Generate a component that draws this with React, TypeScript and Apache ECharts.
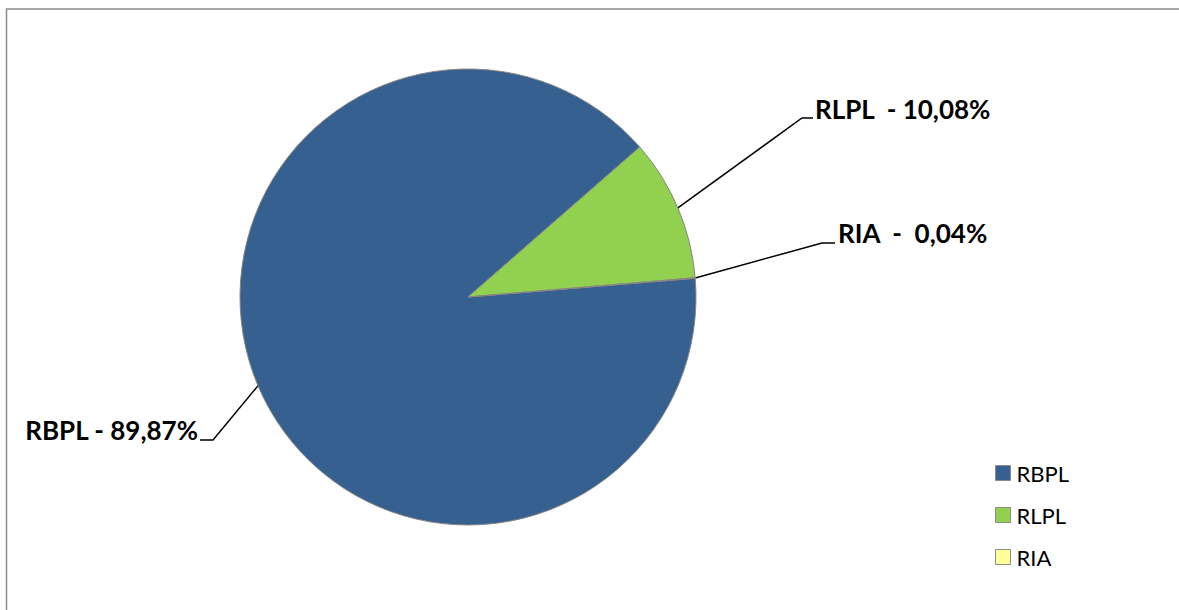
import React, { useEffect, useRef } from "react";
import * as echarts from "echarts";

// Share of each unit, in percent
const categories = ["RBPL", "RLPL", "RIA"];
const shares = [89.87, 10.08, 0.04];
const labelTexts = ["RBPL - 89,87%", "RLPL  - 10,08%", "RIA  -  0,04%"];
const sliceColors = ["#36608f", "#92d050", "#ffff99"];

// Where each callout text sits and where its leader line bends
const calloutAnchors = [
  { x: 198, y: 430, align: "right", elbow: [213, 440], end: [200, 440] },
  { x: 815, y: 109, align: "left", elbow: [802, 118], end: [813, 118] },
  { x: 838, y: 233, align: "left", elbow: [822, 243], end: [835, 243] },
];

export default function App() {
  const ref = useRef<HTMLDivElement>(null);

  useEffect(() => {
    if (!ref.current) return;
    const chart = echarts.init(ref.current, undefined, { renderer: "svg" });
    const labelFont = "Lato, 'Open Sans', sans-serif";

    chart.setOption({
      animation: false,
      backgroundColor: "#ffffff",
      color: sliceColors,
      graphic: [
        {
          type: "rect",
          silent: true,
          shape: { x: 6.5, y: 9, width: 1190, height: 640 },
          style: { fill: "none", stroke: "#8c8c8c", lineWidth: 1.5 },
        },
      ],
      legend: {
        orient: "vertical",
        left: 995,
        top: 462,
        padding: 0,
        itemWidth: 15,
        itemHeight: 15,
        itemGap: 20,
        icon: "rect",
        data: categories,
        itemStyle: { borderColor: "#8c8c8c", borderWidth: 1 },
        textStyle: {
          fontFamily: labelFont,
          fontSize: 22,
          lineHeight: 22,
          color: "#000000",
          padding: [0, 0, 0, 1],
        },
      },
      series: [
        {
          type: "pie",
          center: [468, 297],
          radius: 228,
          startAngle: 4.7,
          clockwise: true,
          avoidLabelOverlap: false,
          itemStyle: { borderColor: "#858585", borderWidth: 1 },
          emphasis: { disabled: true },
          data: categories.map((name, i) => ({ name, value: shares[i] })),
          label: {
            show: true,
            position: "outside",
            formatter: (p: any) => labelTexts[p.dataIndex],
            fontFamily: labelFont,
            fontWeight: "bold",
            fontSize: 26,
            color: "#000000",
          },
          labelLine: {
            show: true,
            length: 20,
            length2: 10,
            lineStyle: { color: "#000000", width: 1.5 },
          },
          labelLayout: (params: any) => {
            const a = calloutAnchors[params.dataIndex];
            const start = params.labelLinePoints
              ? params.labelLinePoints[0]
              : a.elbow;
            return {
              x: a.x,
              y: a.y,
              align: a.align,
              verticalAlign: "middle",
              labelLinePoints: [start, a.elbow, a.end],
            };
          },
        },
      ],
    });

    return () => chart.dispose();
  }, []);

  return (
    <div
      ref={ref}
      style={{
        position: "absolute",
        left: 0,
        top: 0,
        width: 1179,
        height: 610,
      }}
    />
  );
}
